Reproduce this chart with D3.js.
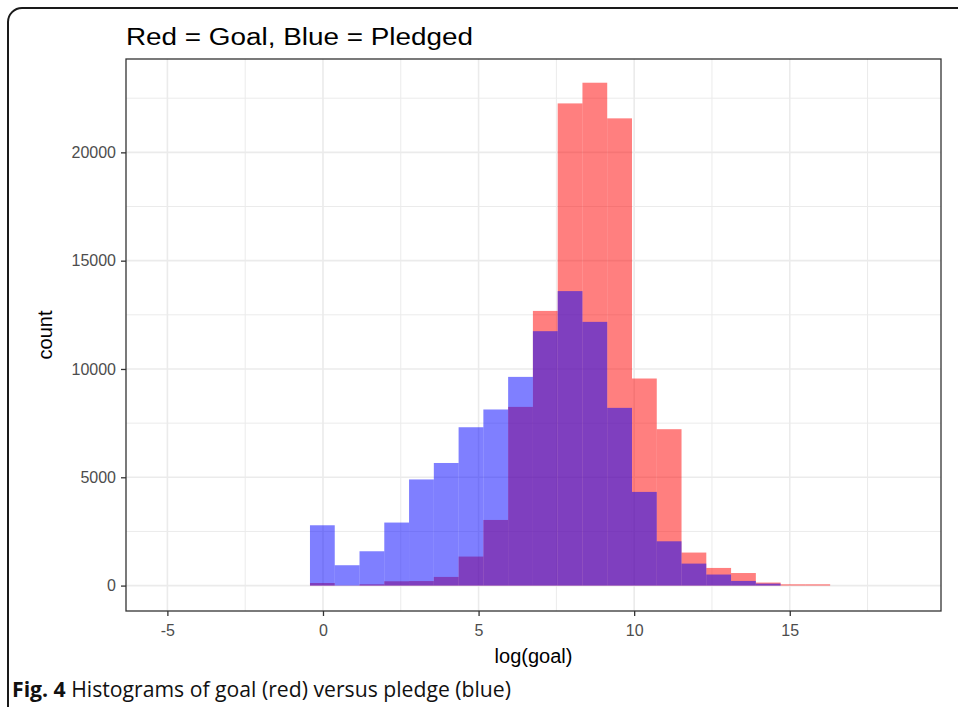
<!DOCTYPE html>
<html>
<head>
  <meta charset="utf-8">
  <title>Histograms of goal versus pledge</title>
  <script src="https://d3js.org/d3.v7.min.js"></script>
<style>
body {
  margin: 0;
  background: #fff;
}
.grid line {
  stroke: #ebebeb;
}
.axis text {
  font-family: "Liberation Sans", Arial, sans-serif;
  font-size: 16px;
  fill: #4d4d4d;
}
.axis line, .axis path {
  stroke: #333;
}
.axis-title {
  font-family: "Liberation Sans", Arial, sans-serif;
  font-size: 20px;
  fill: #000;
}
.caption {
  font-family: "Open Sans", sans-serif;
  font-size: 21px;
  fill: #111;
}
</style>
</head>
<body>
<svg id="chart" width="958" height="707"></svg>
<script>
// histogram bins (log scale), shared by both layers
var binStart = -0.418,
    binWidth = 0.796;

// counts per bin, red = log(goal), blue = log(pledged)
var goalCounts = [120, 10, 60, 200, 210, 400, 1340, 3030, 8250, 12680, 22260,
                  23215, 21570, 9560, 7220, 1525, 815, 580, 140, 60, 60];
var pledgedCounts = [2785, 940, 1585, 2910, 4900, 5660, 7310, 8130, 9635, 11745,
                     13595, 12175, 8205, 4325, 2045, 1015, 510, 215, 90, 0, 0];

var xTicks = [-5, 0, 5, 10, 15],
    xMinor = [-2.5, 2.5, 7.5, 12.5, 17.5],
    yTicks = [0, 5000, 10000, 15000, 20000],
    yMinor = [2500, 7500, 12500, 17500, 22500];

var svg = d3.select("#chart");

var panel = {left: 126, right: 941, top: 59, bottom: 611};

var x = d3.scaleLinear().domain([-6.33, 19.86]).range([panel.left, panel.right]);
var y = d3.scaleLinear().domain([-1173, 24310]).range([panel.bottom, panel.top]);

// figure frame
svg.append("rect")
  .attr("x", 8).attr("y", 8)
  .attr("width", 1000).attr("height", 760)
  .attr("rx", 14).attr("ry", 14)
  .attr("fill", "none")
  .attr("stroke", "#1a1a1a")
  .attr("stroke-width", 2);

// grid
var grid = svg.append("g").attr("class", "grid");
grid.selectAll(".minor-x").data(xMinor).enter().append("line")
  .attr("x1", d => x(d)).attr("x2", d => x(d))
  .attr("y1", panel.top).attr("y2", panel.bottom)
  .attr("stroke-width", 1);
grid.selectAll(".minor-y").data(yMinor).enter().append("line")
  .attr("x1", panel.left).attr("x2", panel.right)
  .attr("y1", d => y(d)).attr("y2", d => y(d))
  .attr("stroke-width", 1);
grid.selectAll(".major-x").data(xTicks).enter().append("line")
  .attr("x1", d => x(d)).attr("x2", d => x(d))
  .attr("y1", panel.top).attr("y2", panel.bottom)
  .attr("stroke-width", 1.6);
grid.selectAll(".major-y").data(yTicks).enter().append("line")
  .attr("x1", panel.left).attr("x2", panel.right)
  .attr("y1", d => y(d)).attr("y2", d => y(d))
  .attr("stroke-width", 1.6);

// bars: red first, blue drawn over it
function drawLayer(counts, color) {
  svg.append("g").selectAll("rect")
    .data(counts)
    .enter().append("rect")
      .attr("x", (d, i) => x(binStart + i * binWidth))
      .attr("width", (d, i) => x(binStart + (i + 1) * binWidth) - x(binStart + i * binWidth))
      .attr("y", d => y(d))
      .attr("height", d => y(0) - y(d))
      .attr("fill", color)
      .attr("fill-opacity", 0.5);
}
drawLayer(goalCounts, "#ff0000");
drawLayer(pledgedCounts, "#0000ff");

// panel border
svg.append("rect")
  .attr("x", panel.left).attr("y", panel.top)
  .attr("width", panel.right - panel.left)
  .attr("height", panel.bottom - panel.top)
  .attr("fill", "none")
  .attr("stroke", "#333")
  .attr("stroke-width", 1.3);

// axes (plain hyphen for negatives, like R)
var fmt = d => String(d);
var xAxis = d3.axisBottom(x).tickValues(xTicks).tickSize(5).tickPadding(6).tickFormat(fmt);
var yAxis = d3.axisLeft(y).tickValues(yTicks).tickSize(5).tickPadding(5).tickFormat(fmt);

svg.append("g").attr("class", "axis")
  .attr("transform", "translate(0," + panel.bottom + ")")
  .call(xAxis)
  .call(g => g.select(".domain").remove())
  .selectAll("text").attr("dy", "0.9em");

svg.append("g").attr("class", "axis")
  .attr("transform", "translate(" + panel.left + ",0)")
  .call(yAxis)
  .call(g => g.select(".domain").remove());

svg.selectAll(".axis .tick line").attr("stroke-width", 1.3);
svg.selectAll(".axis text").attr("font-family", null).attr("font-size", null);

// titles
svg.append("text")
  .attr("x", panel.left).attr("y", 45)
  .attr("font-family", "Liberation Sans, Arial, sans-serif")
  .attr("font-size", 23)
  .attr("textLength", 347)
  .attr("lengthAdjust", "spacingAndGlyphs")
  .text("Red = Goal, Blue = Pledged");

svg.append("text")
  .attr("class", "axis-title")
  .attr("x", (panel.left + panel.right) / 2).attr("y", 663)
  .attr("text-anchor", "middle")
  .text("log(goal)");

svg.append("text")
  .attr("class", "axis-title")
  .attr("transform", "translate(52," + ((panel.top + panel.bottom) / 2) + ") rotate(-90)")
  .attr("text-anchor", "middle")
  .text("count");

// caption
var cap = svg.append("text")
  .attr("class", "caption")
  .attr("x", 12).attr("y", 697)
  .attr("textLength", 499)
  .attr("lengthAdjust", "spacingAndGlyphs");
cap.append("tspan").attr("font-weight", "bold").text("Fig. 4");
cap.append("tspan").text(" Histograms of goal (red) versus pledge (blue)");
</script>
</body>
</html>
